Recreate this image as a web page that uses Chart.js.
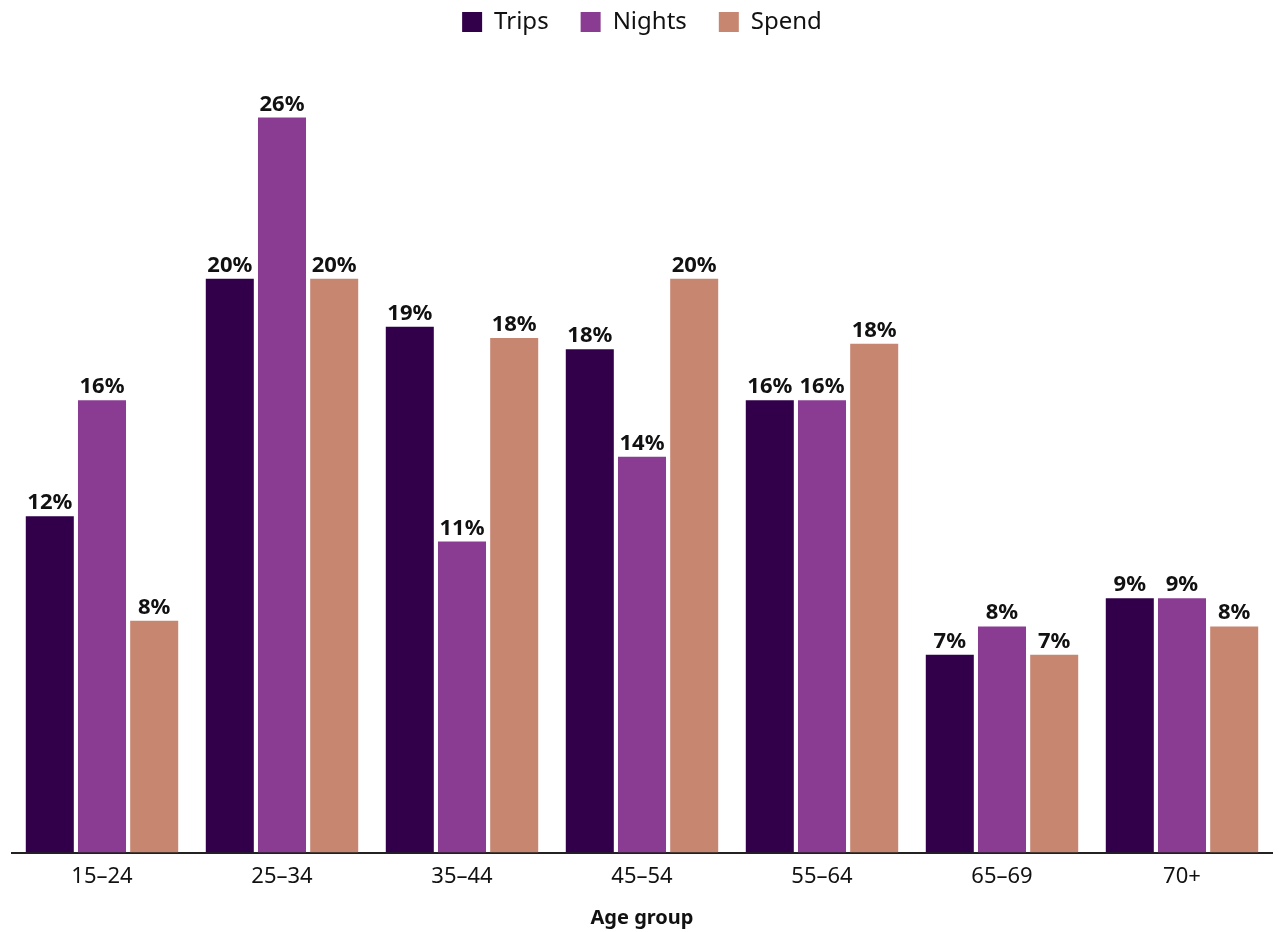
<!DOCTYPE html>
<html>
<head>
<meta charset="utf-8">
<script src="https://cdn.jsdelivr.net/npm/chart.js@4/dist/chart.umd.min.js"></script>
<style>
  html, body { margin: 0; padding: 0; background: #fff; }
  #wrap { width: 1279px; height: 932px; position: relative; }
</style>
</head>
<body>
<div id="wrap"><canvas id="ageChart"></canvas></div>
<script>
// age groups and shares (%)
const ageGroups = ["15–24", "25–34", "35–44", "45–54", "55–64", "65–69", "70+"];
const tripsPct  = [11.9, 20.3, 18.6, 17.8, 16.0, 7.0, 9.0];
const nightsPct = [16.0, 26.0, 11.0, 14.0, 16.0, 8.0, 9.0];
const spendPct  = [8.2, 20.3, 18.2, 20.3, 18.0, 7.0, 8.0];

const fontFamily = "'Noto Sans', 'DejaVu Sans', sans-serif";

// labels over each bar
const barLabels = {
    id: "barLabels",
    afterDatasetsDraw(chart) {
        const ctx = chart.ctx;
        ctx.save();
        ctx.font = "bold 22px " + fontFamily;
        ctx.fillStyle = "#111";
        ctx.textAlign = "center";
        ctx.textBaseline = "alphabetic";
        chart.data.datasets.forEach((ds, i) => {
            chart.getDatasetMeta(i).data.forEach((bar, j) => {
                ctx.fillText(Math.round(ds.data[j]) + "%", bar.x, bar.y - 7);
            });
        });
        ctx.restore();
    }
};

new Chart(document.getElementById("ageChart"), {
    type: "bar",
    data: {
        labels: ageGroups,
        datasets: [
            { label: "Trips", data: tripsPct, backgroundColor: "#32004b" },
            { label: "Nights", data: nightsPct, backgroundColor: "#8a3c93" },
            { label: "Spend", data: spendPct, backgroundColor: "#c78670" }
        ]
    },
    options: {
        responsive: true,
        maintainAspectRatio: false,
        animation: false,
        layout: { padding: { left: 12, right: 7, top: -22, bottom: 2 } },
        datasets: { bar: { categoryPercentage: 0.87, barPercentage: 0.92 } },
        plugins: {
            legend: {
                position: "top",
                labels: {
                    boxWidth: 20, boxHeight: 20, padding: 32,
                    color: "#111",
                    font: { family: fontFamily, size: 24 }
                }
            },
            tooltip: { enabled: false }
        },
        scales: {
            x: {
                grid: { display: false, drawTicks: false },
                border: { display: true, color: "#222", width: 2 },
                ticks: { color: "#111", padding: 11, font: { family: fontFamily, size: 22 } },
                title: { display: true, text: "Age group", color: "#111", padding: { top: 5, bottom: 0 }, font: { family: fontFamily, size: 20, weight: "bold" } }
            },
            y: {
                min: 0, max: 28.6,
                display: false
            }
        }
    },
    plugins: [barLabels]
});
</script>
</body>
</html>
